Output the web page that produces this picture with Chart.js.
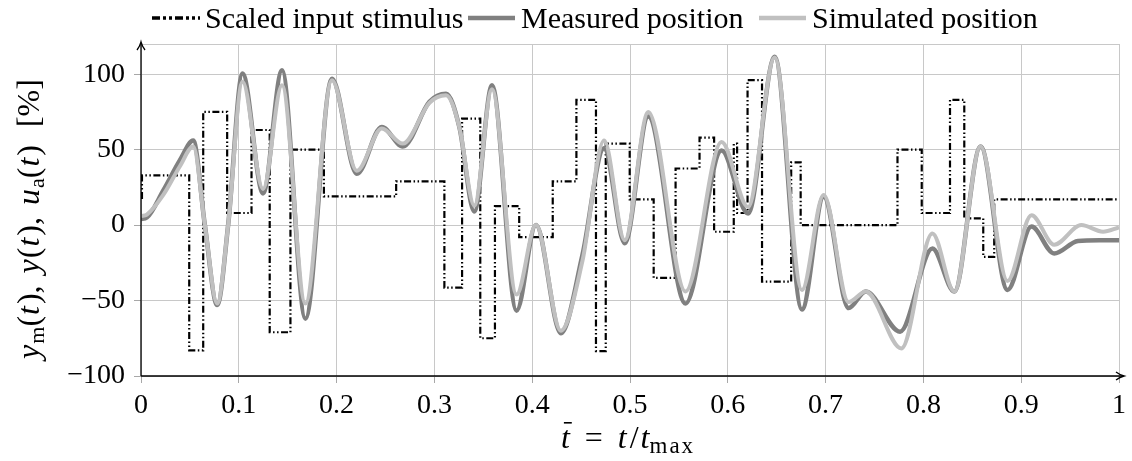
<!DOCTYPE html>
<html>
<head>
<meta charset="utf-8">
<script src="https://cdn.jsdelivr.net/npm/chart.js@4"></script>
<style>
  html, body { margin: 0; padding: 0; background: #fff; }
  #wrap { width: 1132px; height: 461px; }
</style>
</head>
<body>
<div id="wrap"><canvas id="grafico"></canvas></div>
<script>
// input stimulus (step changes)
const stimT = [0, 0.001, 0.0493, 0.0636, 0.0881, 0.113, 0.1316, 0.1528, 0.187, 0.2609, 0.3102, 0.3283, 0.3469, 0.3619, 0.3867, 0.421, 0.4452, 0.4652, 0.4752, 0.4997, 0.5242, 0.5466, 0.5711, 0.586, 0.6061, 0.6095, 0.6202, 0.635, 0.6648, 0.6745, 0.7735, 0.7983, 0.8272, 0.8418, 0.8612, 0.8724, 1]
const stimV = [18, 33, -83, 75, 8, 63, -71, 50, 19, 29, -41.5, 70.6, -75, 12.6, -8, 29, 83, -83.5, 54, 17, -35, 37.5, 58, -4.4, 54, 8, 96, -37.5, 41.5, 0, 50, 8, 83, 4.4, -21, 17, 17]

// measured position
const medT = [0, 0.006, 0.0228, 0.0398, 0.0534, 0.0653, 0.0779, 0.0891, 0.1038, 0.1248, 0.1442, 0.1681, 0.1952, 0.2207, 0.2462, 0.2677, 0.2949, 0.3119, 0.3255, 0.3408, 0.3589, 0.384, 0.4038, 0.4293, 0.4513, 0.4735, 0.4946, 0.5187, 0.5568, 0.5936, 0.6207, 0.648, 0.6758, 0.698, 0.7235, 0.7411, 0.7762, 0.8092, 0.8316, 0.8585, 0.886, 0.9105, 0.9337, 0.958, 0.98, 1]
const medV = [4, 5, 23, 43, 56, 0, -53, 0, 100.5, 21, 102.6, -62, 97, 34, 65, 52, 81.7, 87, 65, 9, 92.7, -56.7, 0, -71.7, -20, 51, -12, 72, -52, 49.5, 7.7, 111.5, -56, 18.8, -55, -44, -70.6, -15.5, -44, 52, -43, -1, -18.8, -10.5, -10, -10]

// simulated position
const simT = [0, 0.006, 0.0228, 0.0398, 0.0534, 0.0653, 0.0779, 0.0891, 0.1038, 0.1248, 0.1442, 0.1681, 0.1952, 0.2207, 0.2462, 0.2677, 0.2949, 0.3119, 0.3255, 0.3408, 0.3589, 0.384, 0.4038, 0.4293, 0.4513, 0.4735, 0.4946, 0.5187, 0.5568, 0.5936, 0.6207, 0.648, 0.6758, 0.698, 0.7235, 0.7411, 0.7775, 0.8092, 0.8316, 0.8585, 0.886, 0.9105, 0.9337, 0.9615, 0.9837, 1]
const simV = [6, 7, 20, 39, 52, 0, -52, 0, 95, 24, 92.7, -52, 96, 36, 64, 54, 81, 86, 65, 13, 90, -46, 0, -70, -24, 56, -10, 75, -44, 55, 12, 111, -43, 20, -51, -44, -81.7, -5.5, -44, 52, -37, 6.6, -13, 0, -4.4, -1.5]

const xTicks = [0, 0.1, 0.2, 0.3, 0.4, 0.5, 0.6, 0.7, 0.8, 0.9, 1]
const yTicks = [-100, -50, 0, 50, 100, 120]

const fonte = 'Liberation Serif'
const pares = (xs, ys) => xs.map((x, i) => ({x: x, y: ys[i]}))
const fontDe = (p) => (p.i ? 'italic ' : '') + (p.s || 32) + 'px "' + fonte + '", serif'

const escreve = (ctx, partes, x, y) => {
    // mede e desenha texto com partes em italico/subscrito, centrado em x
    let total = 0
    partes.forEach(p => {
        ctx.font = fontDe(p)
        ctx.letterSpacing = (p.ls || 0) + 'px'
        p.w = ctx.measureText(p.t).width + (p.g || 0)
        total += p.w
    })
    let cx = x - total / 2
    partes.forEach(p => {
        ctx.font = fontDe(p)
        ctx.letterSpacing = (p.ls || 0) + 'px'
        ctx.fillText(p.t, cx, y + (p.dy || 0))
        if (p.barra) {
            ctx.fillRect(cx + 3, y - 26, p.w - (p.g || 0) - 1, 1.6)
        }
        cx += p.w
    })
    ctx.letterSpacing = '0px'
}

const eixos = {
    id: 'eixos',
    afterDraw(chart) {
        const {ctx, chartArea: a} = chart
        ctx.save()
        ctx.strokeStyle = '#000'
        ctx.lineWidth = 1.3
        ctx.beginPath()
        ctx.moveTo(a.left, a.bottom)
        ctx.lineTo(a.left, a.top)
        ctx.moveTo(a.left, a.bottom)
        ctx.lineTo(a.right + 3, a.bottom)
        ctx.stroke()
        // pontas das setas
        ctx.beginPath()
        ctx.moveTo(a.left - 4, a.top + 6)
        ctx.quadraticCurveTo(a.left - 1, a.top + 2, a.left, a.top - 2)
        ctx.quadraticCurveTo(a.left + 1, a.top + 2, a.left + 4, a.top + 6)
        ctx.moveTo(a.right - 3, a.bottom - 4)
        ctx.quadraticCurveTo(a.right + 1, a.bottom - 1, a.right + 5, a.bottom)
        ctx.quadraticCurveTo(a.right + 1, a.bottom + 1, a.right - 3, a.bottom + 4)
        ctx.stroke()

        // legenda
        const metas = chart.data.datasets
        const itens = [
            {x0: 152, x1: 200, tx: 205},
            {x0: 468, x1: 515, tx: 521},
            {x0: 759, x1: 806, tx: 812}
        ]
        ctx.textBaseline = 'alphabetic'
        itens.forEach((it, i) => {
            const ds = metas[i]
            ctx.save()
            ctx.strokeStyle = ds.borderColor
            ctx.lineWidth = i === 0 ? 3.5 : 4.5
            ctx.setLineDash(i === 0 ? [8, 3, 3, 3, 3, 3] : [])
            ctx.beginPath()
            ctx.moveTo(it.x0, 18)
            ctx.lineTo(it.x1, 18)
            ctx.stroke()
            ctx.restore()
            ctx.fillStyle = '#000'
            ctx.font = '30px "' + fonte + '", serif'
            ctx.fillText(ds.label, it.tx, 28)
        })

        ctx.fillStyle = '#000'
        escreve(ctx, [
            {t: 't', i: true, barra: true, g: 15},
            {t: '=', g: 15},
            {t: 't', i: true, g: 3},
            {t: '/', g: 2},
            {t: 't', i: true},
            {t: 'max', s: 23, dy: 5, ls: 2}
        ], 628, 448)

        ctx.translate(39, 219)
        ctx.rotate(-Math.PI / 2)
        escreve(ctx, [
            {t: 'y', i: true, g: 1}, {t: 'm', s: 22, dy: 5}, {t: '(', g: 1}, {t: 't', i: true, g: 2}, {t: '),', g: 12},
            {t: 'y', i: true, g: 1}, {t: '(', g: 1}, {t: 't', i: true, g: 2}, {t: '),', g: 12},
            {t: 'u', i: true, g: 1}, {t: 'a', s: 22, dy: 5}, {t: '(', g: 1}, {t: 't', i: true, g: 2}, {t: ')', g: 18},
            {t: '[%]'}
        ], 0, 0)
        ctx.restore()
    }
}

new Chart(document.getElementById('grafico'), {
    type: 'line',
    data: {
        datasets: [
            {
                label: 'Scaled input stimulus',
                data: pares(stimT, stimV),
                stepped: true,
                borderColor: '#000',
                backgroundColor: '#000',
                borderWidth: 2.2,
                borderDash: [7, 2.5, 1.5, 2.5, 1.5, 2.5],
                pointRadius: 0,
                order: 3
            },
            {
                label: 'Measured position',
                data: pares(medT, medV),
                cubicInterpolationMode: 'monotone',
                borderColor: '#808080',
                backgroundColor: '#808080',
                borderWidth: 4.5,
                pointRadius: 0,
                order: 2
            },
            {
                label: 'Simulated position',
                data: pares(simT, simV),
                cubicInterpolationMode: 'monotone',
                borderColor: '#c0c0c0',
                backgroundColor: '#c0c0c0',
                borderWidth: 4,
                pointRadius: 0,
                order: 1
            }
        ]
    },
    options: {
        responsive: true,
        maintainAspectRatio: false,
        animation: false,
        events: [],
        layout: { padding: { left: 0, right: 12, top: 44, bottom: 0 } },
        plugins: {
            legend: { display: false },
            tooltip: { enabled: false }
        },
        scales: {
            x: {
                type: 'linear',
                min: 0,
                max: 1,
                afterBuildTicks: s => { s.ticks = xTicks.map(v => ({value: v})) },
                afterFit: s => { s.height = 85 },
                ticks: {
                    callback: v => String(Number(v.toFixed(1))),
                    color: '#000',
                    font: { family: fonte, size: 28 },
                    padding: 6,
                    maxRotation: 0,
                    autoSkip: false
                },
                grid: { color: '#c8c8c8', lineWidth: 1, tickLength: 7, tickColor: '#a8a8a8' },
                border: { display: false }
            },
            y: {
                type: 'linear',
                min: -100,
                max: 120,
                afterBuildTicks: s => { s.ticks = yTicks.map(v => ({value: v})) },
                afterFit: s => { s.width = 141 },
                ticks: {
                    callback: v => v === 120 ? '' : String(v).replace('-', '\u2212'),
                    color: '#000',
                    font: { family: fonte, size: 28 },
                    padding: 9
                },
                grid: {
                    color: '#c8c8c8',
                    lineWidth: 1,
                    tickLength: 7,
                    tickColor: c => c.tick && c.tick.value === 120 ? 'rgba(0,0,0,0)' : '#a8a8a8'
                },
                border: { display: false }
            }
        }
    },
    plugins: [eixos]
})
</script>
</body>
</html>
